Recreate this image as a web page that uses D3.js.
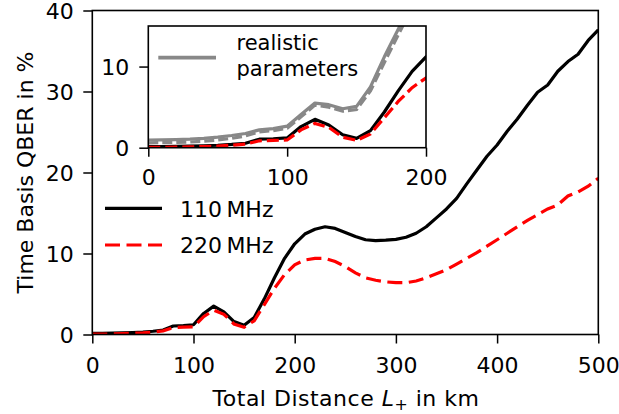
<!DOCTYPE html>
<html>
<head>
<meta charset="utf-8">
<script src="https://cdn.jsdelivr.net/npm/d3@7"></script>
<style>
  html, body { margin: 0; padding: 0; background: #fff; }
  svg { display: block; }
  text { font-family: "DejaVu Sans", sans-serif; fill: #000; }
</style>
</head>
<body>
<svg id="chart" width="619" height="414"></svg>
<script>
// ---- data ----
const distance = [0,10,20,30,40,50,60,70,80,90,100,110,120,130,140,150,160,170,180,190,200,
  210,220,230,240,250,260,270,280,290,300,310,320,330,340,350,360,370,380,390,400,
  410,420,430,440,450,460,470,480,490,500];
const qber110 = [0.15,0.15,0.17,0.2,0.24,0.3,0.4,0.55,1.05,1.1,1.2,2.6,3.5,2.8,1.6,1.15,2.1,4.4,7.0,9.4,11.2,
  12.4,13.0,13.3,13.1,12.6,12.1,11.7,11.6,11.65,11.75,12.0,12.5,13.3,14.4,15.5,16.8,18.6,20.3,22.0,23.4,
  25.1,26.6,28.3,29.9,30.8,32.5,33.7,34.6,36.3,37.6];
const qber220 = [0.05,0.05,0.07,0.1,0.15,0.2,0.3,0.45,0.85,0.9,0.95,2.2,3.0,2.5,1.3,0.9,1.7,3.7,5.7,7.4,8.6,
  9.2,9.4,9.4,9.0,8.4,7.6,7.0,6.7,6.5,6.4,6.4,6.6,7.0,7.5,8.0,8.7,9.4,10.1,10.9,11.7,
  12.5,13.3,14.1,14.8,15.5,16.0,17.1,17.6,18.3,19.3];
// realistic parameters (inset only), 0..200 km
const realDistance = [0,10,20,30,40,50,60,70,80,90,100,110,120,130,140,150,160,170,180,190,200];
const real110 = [0.95,0.97,1.0,1.05,1.15,1.3,1.5,1.75,2.2,2.35,2.65,4.1,5.5,5.3,4.8,5.1,7.5,11.2,14.6,18.0,21.5];
const real220 = [0.6,0.62,0.65,0.7,0.8,0.95,1.15,1.45,1.95,2.1,2.4,3.8,5.25,5.0,4.5,4.7,7.0,10.5,13.9,17.3,20.8];

const xTicksMain = [0,100,200,300,400,500];
const yTicksMain = [0,10,20,30,40];
const xTicksInset = [0,100,200];
const yTicksInset = [0,10];
const legendMain = ["110\u2009MHz", "220\u2009MHz"];
const legendInset = ["realistic", "parameters"];

// ---- drawing ----
const svg = d3.select("#chart");
const FS = 22;

const xMain = d3.scaleLinear().domain([0,500]).range([92.3,598.3]);
const yMain = d3.scaleLinear().domain([0,40]).range([334.5,10.5]);
const xIn = d3.scaleLinear().domain([0,200]).range([148.3,426]);
const yIn = d3.scaleLinear().domain([0,15]).range([147.7,26]);

const defs = svg.append("defs");
defs.append("clipPath").attr("id","clipMain").append("rect")
  .attr("x",92.3).attr("y",10.5).attr("width",506).attr("height",324);
defs.append("clipPath").attr("id","clipIn").append("rect")
  .attr("x",148.3).attr("y",26).attr("width",426-148.3).attr("height",147.7-26);

const RED = "#ff0000", GREY = "#888888";
const LW = 3.2;

function series(xs, ys) { return xs.map((d,i)=>[d, ys[i]]); }

// main curves
const lineMain = d3.line().x(d=>xMain(d[0])).y(d=>yMain(d[1]));
const gMain = svg.append("g").attr("clip-path","url(#clipMain)");
gMain.append("path").datum(series(distance,qber110)).attr("d",lineMain)
  .attr("fill","none").attr("stroke","#000").attr("stroke-width",LW).attr("stroke-linejoin","round");
gMain.append("path").datum(series(distance,qber220)).attr("d",lineMain)
  .attr("fill","none").attr("stroke",RED).attr("stroke-width",LW).attr("stroke-dasharray","15,6.5");

// main axes
const axB = svg.append("g").attr("transform","translate(0,334.5)")
  .call(d3.axisBottom(xMain).tickValues(xTicksMain).tickFormat(d3.format("d")).tickSize(9).tickSizeOuter(0));
const axL = svg.append("g").attr("transform","translate(92.3,0)")
  .call(d3.axisLeft(yMain).tickValues(yTicksMain).tickFormat(d3.format("d")).tickSize(9).tickSizeOuter(0));
[axB, axL].forEach(a=>{
  a.select(".domain").remove();
  a.selectAll("line").attr("stroke","#000").attr("stroke-width",1.5);
  a.selectAll("text").attr("font-size",FS).attr("font-family","DejaVu Sans, sans-serif");
});
axB.selectAll("text").attr("y",38.6).attr("dy",0);
axL.selectAll("text").attr("x",-18.5).attr("dy","0.36em");
svg.append("rect").attr("x",92.3).attr("y",10.5).attr("width",506).attr("height",324)
  .attr("fill","none").attr("stroke","#000").attr("stroke-width",1.6);

// axis labels
const xl = svg.append("text").attr("x",346).attr("y",405.5).attr("text-anchor","middle")
  .attr("font-size",FS).attr("letter-spacing",0.5);
xl.append("tspan").text("Total Distance ");
xl.append("tspan").attr("font-style","italic").text("L");
xl.append("tspan").attr("font-size",FS*0.72).attr("dy",4).text("+");
xl.append("tspan").attr("dy",-4).text(" in km");
svg.append("text").attr("transform","translate(33,172.5) rotate(-90)")
  .attr("text-anchor","middle").attr("font-size",FS).text("Time Basis QBER in %");

// main legend
const legY = [208.3, 245];
svg.append("line").attr("x1",105).attr("x2",162).attr("y1",legY[0]).attr("y2",legY[0])
  .attr("stroke","#000").attr("stroke-width",LW);
svg.append("line").attr("x1",105).attr("x2",162).attr("y1",legY[1]).attr("y2",legY[1])
  .attr("stroke",RED).attr("stroke-width",LW).attr("stroke-dasharray","15,6.5");
legendMain.forEach((t,i)=>{
  svg.append("text").attr("x",180).attr("y",legY[i]+8.4).attr("font-size",FS).text(t);
});

// inset
svg.append("rect").attr("x",148.3).attr("y",26).attr("width",426-148.3).attr("height",147.7-26)
  .attr("fill","#fff");
const lineIn = d3.line().x(d=>xIn(d[0])).y(d=>yIn(d[1]));
const gIn = svg.append("g").attr("clip-path","url(#clipIn)");
gIn.append("path").datum(series(realDistance,real110)).attr("d",lineIn)
  .attr("fill","none").attr("stroke",GREY).attr("stroke-width",LW).attr("stroke-linejoin","round");
gIn.append("path").datum(series(realDistance,real220)).attr("d",lineIn)
  .attr("fill","none").attr("stroke",GREY).attr("stroke-width",LW).attr("stroke-dasharray","10,4");
gIn.append("path").datum(series(distance,qber110)).attr("d",lineIn)
  .attr("fill","none").attr("stroke","#000").attr("stroke-width",LW).attr("stroke-linejoin","round");
gIn.append("path").datum(series(distance,qber220)).attr("d",lineIn)
  .attr("fill","none").attr("stroke",RED).attr("stroke-width",LW).attr("stroke-dasharray","12,5");

const iaB = svg.append("g").attr("transform","translate(0,147.7)")
  .call(d3.axisBottom(xIn).tickValues(xTicksInset).tickFormat(d3.format("d")).tickSize(9).tickSizeOuter(0));
const iaL = svg.append("g").attr("transform","translate(148.3,0)")
  .call(d3.axisLeft(yIn).tickValues(yTicksInset).tickFormat(d3.format("d")).tickSize(9).tickSizeOuter(0));
[iaB, iaL].forEach(a=>{
  a.select(".domain").remove();
  a.selectAll("line").attr("stroke","#000").attr("stroke-width",1.5);
  a.selectAll("text").attr("font-size",FS).attr("font-family","DejaVu Sans, sans-serif");
});
iaB.selectAll("text").attr("y",37.3).attr("dy",0);
iaL.selectAll("text").attr("x",-19).attr("dy","0.36em");
svg.append("rect").attr("x",148.3).attr("y",26).attr("width",426-148.3).attr("height",147.7-26)
  .attr("fill","none").attr("stroke","#000").attr("stroke-width",1.6);

// inset legend
svg.append("line").attr("x1",158.3).attr("x2",216).attr("y1",57.7).attr("y2",57.7)
  .attr("stroke",GREY).attr("stroke-width",LW+0.5);
svg.append("text").attr("x",236.5).attr("y",49.5).attr("font-size",FS-1).text(legendInset[0]);
svg.append("text").attr("x",236.5).attr("y",76).attr("font-size",FS-1).text(legendInset[1]);
</script>
</body>
</html>
